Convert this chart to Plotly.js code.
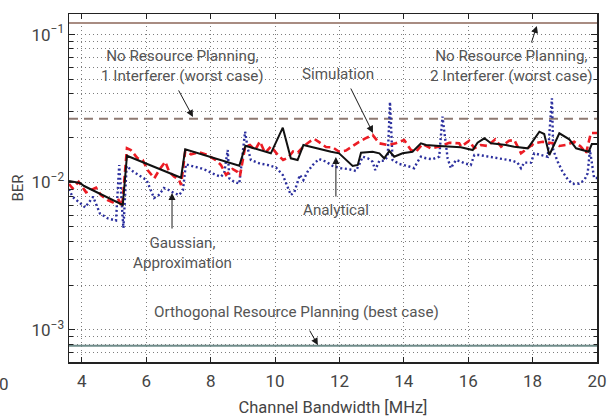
<!DOCTYPE html>
<html>
<head>
<meta charset="utf-8">
<script src="https://cdn.plot.ly/plotly-3.0.1.min.js"></script>
<style>
  html, body { margin: 0; padding: 0; background: #fff; }
  #chart { width: 610px; height: 417px; }
</style>
</head>
<body>
<div id="chart"></div>
<script>
// Channel bandwidth axis
const bwRange = [3.6, 20];
const bwTicks = [4, 6, 8, 10, 12, 14, 16, 18, 20];

// BER axis ticks (decades)
const berTicks = [0.001, 0.01, 0.1];
const berTickText = ['10<sup>\u22123</sup>', '10<sup>\u22122</sup>', '10<sup>\u22121</sup>'];

// Analytical BER
const anaX = [3.60, 3.94, 4.07, 5.27, 5.40, 7.08, 7.21, 8.89, 9.08, 9.87, 10.24, 10.49, 10.70, 10.88, 11.74, 11.99, 12.41, 12.57, 12.67, 13.03, 13.24, 13.39, 13.55, 13.70, 13.96, 14.27, 14.53, 14.69, 15.10, 15.77, 16.14, 16.29, 16.50, 16.71, 17.17, 17.43, 17.85, 18.21, 18.36, 18.52, 18.83, 19.14, 19.35, 19.60, 19.74, 19.84, 20.00];
const anaY = [0.0102, 0.00989, 0.00944, 0.00702, 0.01514, 0.01074, 0.01673, 0.01296, 0.0177, 0.01572, 0.02344, 0.01454, 0.01416, 0.01789, 0.01612, 0.01572, 0.0129, 0.0131, 0.01587, 0.01612, 0.01572, 0.01454, 0.0163, 0.01491, 0.01572, 0.01612, 0.01837, 0.01789, 0.01761, 0.01725, 0.01655, 0.01854, 0.01986, 0.01837, 0.01789, 0.01742, 0.01699, 0.02203, 0.02124, 0.01531, 0.02148, 0.01956, 0.01699, 0.01655, 0.01612, 0.01817, 0.01817];

// Simulated BER
const simX = [3.60, 3.71, 3.90, 4.13, 4.44, 4.59, 4.80, 4.96, 5.14, 5.25, 5.40, 5.52, 5.73, 5.89, 6.04, 6.25, 6.40, 6.59, 6.71, 6.87, 7.02, 7.08, 7.21, 7.39, 7.65, 7.85, 8.16, 8.32, 8.48, 8.58, 8.68, 8.84, 8.91, 9.07, 9.22, 9.38, 9.53, 9.69, 9.87, 10.09, 10.25, 10.40, 10.56, 10.71, 10.90, 11.08, 11.22, 11.37, 11.58, 11.79, 11.99, 12.20, 12.41, 12.61, 12.82, 13.03, 13.24, 13.50, 13.75, 14.01, 14.22, 14.38, 14.58, 14.84, 15.10, 15.41, 15.72, 15.78, 16.03, 16.19, 16.39, 16.60, 16.84, 17.02, 17.27, 17.43, 17.64, 17.84, 18.05, 18.31, 18.62, 18.83, 19.03, 19.29, 19.50, 19.66, 19.81, 20.00];
const simY = [0.00974, 0.00911, 0.01008, 0.00856, 0.00919, 0.0082, 0.00759, 0.00733, 0.00759, 0.00682, 0.017, 0.01655, 0.01455, 0.01416, 0.01211, 0.01064, 0.01211, 0.01378, 0.0118, 0.01092, 0.01036, 0.00959, 0.0163, 0.01547, 0.01597, 0.01547, 0.01416, 0.0131, 0.01121, 0.0118, 0.01231, 0.01174, 0.01103, 0.01735, 0.0179, 0.01655, 0.0189, 0.0158, 0.01749, 0.01531, 0.01416, 0.01467, 0.01617, 0.01592, 0.01762, 0.0189, 0.01965, 0.0187, 0.01735, 0.01727, 0.01612, 0.01639, 0.01762, 0.01881, 0.0199, 0.02092, 0.01837, 0.0179, 0.01837, 0.01935, 0.01655, 0.01612, 0.01818, 0.017, 0.01745, 0.01854, 0.01837, 0.01745, 0.01911, 0.017, 0.0179, 0.01762, 0.01956, 0.01745, 0.01911, 0.01935, 0.01572, 0.017, 0.01837, 0.01881, 0.01837, 0.01762, 0.0179, 0.01881, 0.01745, 0.01572, 0.02158, 0.02158];

// Gaussian approximation BER
const gauX = [3.60, 3.71, 4.10, 4.35, 4.56, 4.81, 5.06, 5.16, 5.29, 5.39, 5.60, 6.01, 6.24, 6.39, 6.55, 6.70, 6.86, 7.02, 7.14, 7.23, 7.49, 7.65, 7.85, 8.16, 8.32, 8.42, 8.53, 8.58, 8.73, 8.89, 9.07, 9.15, 9.25, 9.51, 9.77, 10.03, 10.24, 10.39, 10.49, 10.60, 10.70, 10.77, 10.88, 11.01, 11.17, 11.37, 11.58, 11.79, 12.05, 12.30, 12.51, 12.61, 12.72, 12.88, 13.03, 13.11, 13.24, 13.39, 13.50, 13.57, 13.65, 13.86, 14.12, 14.32, 14.43, 14.53, 14.69, 14.89, 15.10, 15.20, 15.29, 15.36, 15.46, 15.62, 15.78, 15.88, 16.08, 16.19, 16.34, 16.65, 16.96, 17.38, 17.53, 17.64, 17.74, 17.95, 18.05, 18.31, 18.47, 18.60, 18.64, 18.78, 18.93, 19.09, 19.24, 19.45, 19.61, 19.71, 19.78, 19.91, 20.00];
const gauY = [0.00901, 0.00798, 0.00676, 0.00798, 0.00615, 0.00569, 0.00551, 0.0131, 0.0049, 0.0129, 0.0118, 0.01036, 0.00783, 0.0082, 0.00915, 0.00887, 0.00846, 0.0082, 0.00887, 0.01325, 0.01276, 0.01255, 0.01211, 0.01121, 0.01092, 0.01152, 0.01655, 0.01064, 0.01008, 0.00981, 0.02203, 0.017, 0.01416, 0.01345, 0.0131, 0.0126, 0.01121, 0.00934, 0.0082, 0.0086, 0.01008, 0.01121, 0.01036, 0.0118, 0.0131, 0.01439, 0.0138, 0.0129, 0.01246, 0.01227, 0.01193, 0.0131, 0.01491, 0.01455, 0.0138, 0.01211, 0.014, 0.014, 0.01491, 0.03504, 0.01416, 0.01331, 0.0129, 0.01246, 0.0138, 0.01491, 0.01455, 0.01433, 0.01491, 0.02789, 0.01935, 0.01455, 0.01246, 0.01416, 0.0138, 0.01345, 0.0131, 0.01531, 0.01531, 0.01491, 0.01455, 0.014, 0.0136, 0.01246, 0.0136, 0.0136, 0.01572, 0.01531, 0.01491, 0.03701, 0.01655, 0.0138, 0.0118, 0.01048, 0.00974, 0.00981, 0.01036, 0.01152, 0.01655, 0.01069, 0.01069];

// Reference levels for the resource planning cases
const worst2Ber = 0.12;     // no planning, 2 interferers
const worst1Ber = 0.0269;   // no planning, 1 interferer
const bestBer = 0.000783;   // orthogonal planning

const FONT = 'Roboto, "DejaVu Sans", sans-serif';
const TXT = '#555555';

function levelTrace(y, color, dash) {
  return {
    x: bwRange, y: [y, y], mode: 'lines', hoverinfo: 'skip', showlegend: false,
    line: { color: color, width: 2, dash: dash }
  };
}

const traces = [
  levelTrace(worst2Ber, '#a88c82', 'solid'),
  levelTrace(worst1Ber, '#8e7a72', '9px,6px'),
  levelTrace(bestBer, '#6f8c8a', 'solid'),
  { x: gauX, y: gauY, mode: 'lines', name: 'Gaussian Approximation', showlegend: false,
    line: { color: '#2b2f9e', width: 2.4, dash: '2px,2.6px' } },
  { x: simX, y: simY, mode: 'lines', name: 'Simulation', showlegend: false,
    line: { color: '#ec1c24', width: 2.6, dash: '7px,4px' } },
  { x: anaX, y: anaY, mode: 'lines', name: 'Analytical', showlegend: false,
    line: { color: '#111111', width: 2 } }
];

const L = Math.log10;

function label(text, x, logY) {
  return { text: text, x: x, y: logY, xref: 'x', yref: 'y', showarrow: false,
    xanchor: 'center', yanchor: 'middle', align: 'center',
    font: { family: FONT, size: 15.2, color: TXT } };
}
function arrow(x, y, ax, ay) {
  return { text: '', x: x, y: L(y), ax: ax, ay: L(ay), xref: 'x', yref: 'y',
    axref: 'x', ayref: 'y', showarrow: true, arrowhead: 2, arrowsize: 1.4,
    arrowwidth: 1, arrowcolor: '#1a1a1a', standoff: 0 };
}

const annotations = [
  label('No Resource Planning,<br>1 Interferer (worst case)', 7.14, -1.212),
  label('No Resource Planning,<br>2 Interferer (worst case)', 17.33, -1.212),
  label('Simulation', 11.95, -1.266),
  label('Analytical', 11.89, -2.188),
  label('Gaussian,<br>Approximation', 7.11, -2.479),
  label('Orthogonal Resource Planning (best case)', 10.68, -2.879),
  arrow(7.45, 0.0277, 6.98, 0.0429),
  arrow(18.13, 0.1146, 17.95, 0.0865),
  arrow(13.04, 0.0216, 12.33, 0.0442),
  arrow(11.89, 0.01484, 11.89, 0.00782),
  arrow(6.80, 0.00846, 6.80, 0.00475),
  arrow(11.33, 0.00079, 11.05, 0.001014),
  { text: '0', x: -0.136, y: -0.03, xref: 'paper', yref: 'paper', showarrow: false,
    xanchor: 'left', yanchor: 'top', font: { family: FONT, size: 17, color: '#444' } }
];

const gridColor = '#7d7d7d';
const gridDash = '1px,3px';

const layout = {
  width: 610, height: 417,
  margin: { l: 69, r: 13, t: 14, b: 55 },
  paper_bgcolor: '#ffffff', plot_bgcolor: '#ffffff',
  showlegend: false,
  font: { family: FONT, color: '#444' },
  xaxis: {
    range: bwRange, tickvals: bwTicks, ticks: 'inside', ticklen: 5, tickcolor: '#222',
    showline: true, linecolor: '#222', linewidth: 1.5, mirror: 'ticks',
    showgrid: true, gridcolor: gridColor, griddash: gridDash, gridwidth: 1,
    zeroline: false, ticklabelstandoff: 3,
    tickfont: { family: FONT, size: 17, color: '#444' },
    title: { text: 'Channel Bandwidth [MHz]', font: { family: FONT, size: 16.5, color: '#444' }, standoff: 11 }
  },
  yaxis: {
    type: 'log', range: [L(6.07e-4), L(0.138)],
    tickvals: berTicks, ticktext: berTickText,
    ticks: 'inside', ticklen: 6, tickcolor: '#222',
    showline: true, linecolor: '#222', linewidth: 1.5, mirror: 'ticks',
    showgrid: true, gridcolor: gridColor, griddash: gridDash, gridwidth: 1,
    zeroline: false, tickfont: { family: FONT, size: 17, color: '#444' },
    minor: { dtick: 'D1', ticks: 'inside', ticklen: 3.5, tickcolor: '#222',
             showgrid: true, gridcolor: gridColor, griddash: gridDash, gridwidth: 1 },
    title: { text: 'BER', font: { family: FONT, size: 15, color: '#444' }, standoff: 4 }
  },
  annotations: annotations
};

Plotly.newPlot('chart', traces, layout, { staticPlot: true, displayModeBar: false });
</script>
</body>
</html>
